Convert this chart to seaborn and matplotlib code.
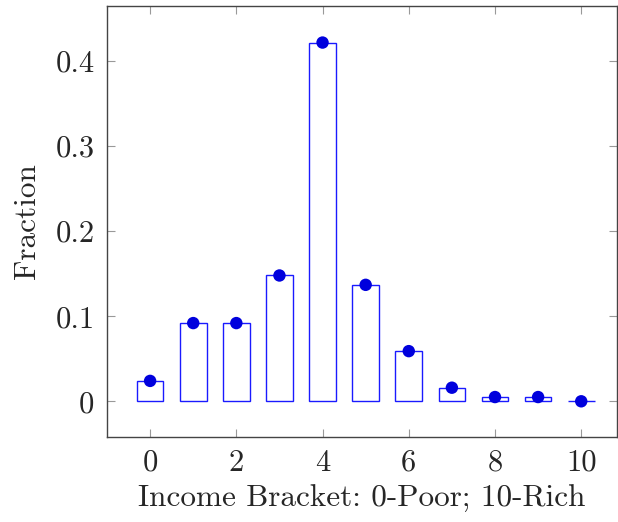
import matplotlib
matplotlib.use("Agg")
import matplotlib.pyplot as plt
import seaborn as sns
import pandas as pd
from matplotlib.ticker import FuncFormatter

brackets = [0, 1, 2, 3, 4, 5, 6, 7, 8, 9, 10]
fractions = [0.024, 0.092, 0.092, 0.148, 0.422, 0.137, 0.059, 0.016, 0.005, 0.005, 0.0]
xticks = [0, 2, 4, 6, 8, 10]
yticks = [0, 0.1, 0.2, 0.3, 0.4]

df = pd.DataFrame({"bracket": brackets, "fraction": fractions})

sns.set_style("ticks")
plt.rcParams["font.family"] = ["cmr10", "DejaVu Serif"]
plt.rcParams["mathtext.fontset"] = "cm"
plt.rcParams["axes.formatter.use_mathtext"] = True
plt.rcParams["axes.unicode_minus"] = False

fig = plt.figure(figsize=(6.18, 5.22), dpi=100)
ax = fig.add_axes([107/618, 1-437/522, (617-107)/618, (437-6)/522])

sns.barplot(data=df, x="bracket", y="fraction", native_scale=True, width=0.62,
            fill=False, edgecolor="#1a1aff", linewidth=1.0, ax=ax, errorbar=None)
for p in ax.patches:
    p.set_edgecolor("#1a1aff")
    p.set_facecolor("none")
sns.scatterplot(data=df, x="bracket", y="fraction", color="#0000dd", s=80,
                edgecolor="none", ax=ax, zorder=5)

ax.set_xlim(-1.0, 10.83)
ax.set_ylim(-0.042, 0.465)
ax.set_xticks(xticks)
ax.set_yticks(yticks)
ax.xaxis.set_major_formatter(FuncFormatter(lambda v, p: "%g" % v))
ax.yaxis.set_major_formatter(FuncFormatter(lambda v, p: "%g" % v))
ax.tick_params(direction="in", length=6, width=0.8, color="#999999",
               top=True, right=True, labelsize=22, pad=9)
for s in ax.spines.values():
    s.set_color("#444444")
    s.set_linewidth(1.0)
ax.set_xlabel("Income Bracket: 0-Poor; 10-Rich", fontsize=22.5, labelpad=6)
ax.set_ylabel("Fraction", fontsize=22.5, labelpad=10)

fig.savefig("out.png", dpi=100)
